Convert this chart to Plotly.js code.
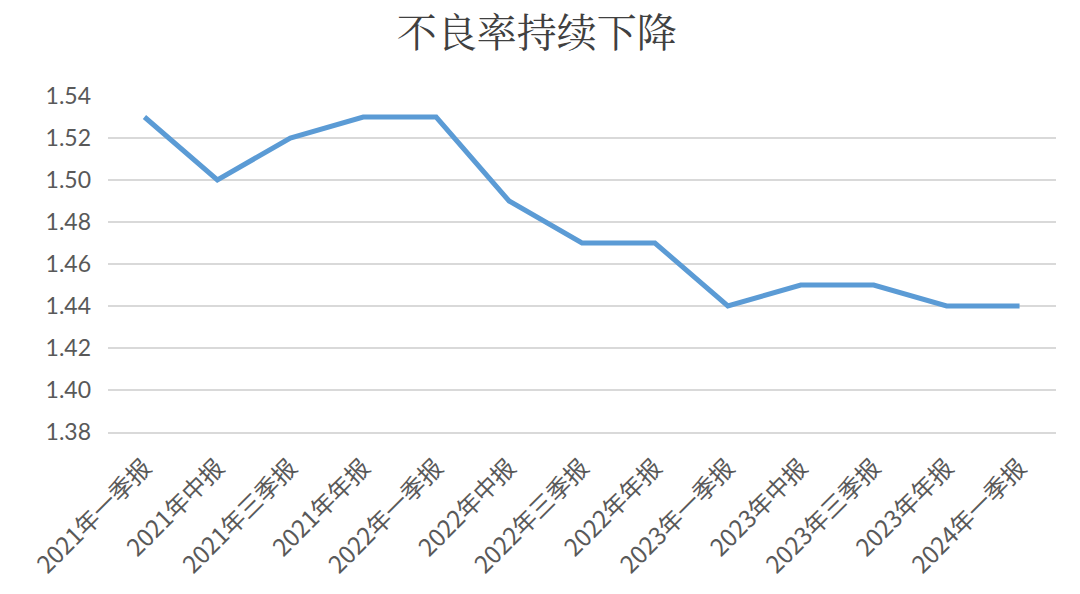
<!DOCTYPE html>
<html><head><meta charset="utf-8">
<script src="https://cdn.plot.ly/plotly-3.0.1.min.js"></script>
<style>html,body{margin:0;padding:0;background:#fff}#chart{width:1080px;height:594px}</style>
</head><body><div id="chart"></div>
<script>
const categories = ["2021年一季报","2021年中报","2021年三季报","2021年年报","2022年一季报","2022年中报","2022年三季报","2022年年报","2023年一季报","2023年中报","2023年三季报","2023年年报","2024年一季报"];
const values = [1.53,1.50,1.52,1.53,1.53,1.49,1.47,1.47,1.44,1.45,1.45,1.44,1.44];
const yTicks = [1.38,1.40,1.42,1.44,1.46,1.48,1.50,1.52,1.54];

Plotly.newPlot('chart',[{
  type:'scatter', mode:'lines', x:categories, y:values,
  line:{color:'#5b9bd5', width:5}, hoverinfo:'skip'
}],{
  width:1080, height:594,
  margin:{l:108, r:24, t:96, b:162},
  paper_bgcolor:'#fff', plot_bgcolor:'#fff',
  showlegend:false,
  title:{text:'不良率持续下降', x:0.497, xref:'container', xanchor:'center', y:0.945, yref:'container', yanchor:'middle',
    font:{family:'"Noto Serif CJK SC","Noto Sans CJK SC",serif', size:40, color:'#404040'}},
  xaxis:{type:'category', tickangle:-45, showgrid:false, zeroline:false, showline:true, linecolor:'#d9d9d9', linewidth:2,
    ticks:'', ticklabelstandoff:10,
    tickfont:{family:'"Noto Sans CJK SC", sans-serif', size:24, color:'#595959'}, range:[-0.5,12.5]},
  yaxis:{range:[1.38,1.54], tickvals:yTicks, ticktext:yTicks.map(v=>v.toFixed(2)), showgrid:true,
    gridcolor:'#d9d9d9', gridwidth:1.5, zeroline:false, showline:false, ticks:'', ticklabelstandoff:16,
    tickfont:{family:'Lato,"Open Sans",sans-serif', size:23, color:'#595959'}}
},{staticPlot:true});
</script></body></html>
